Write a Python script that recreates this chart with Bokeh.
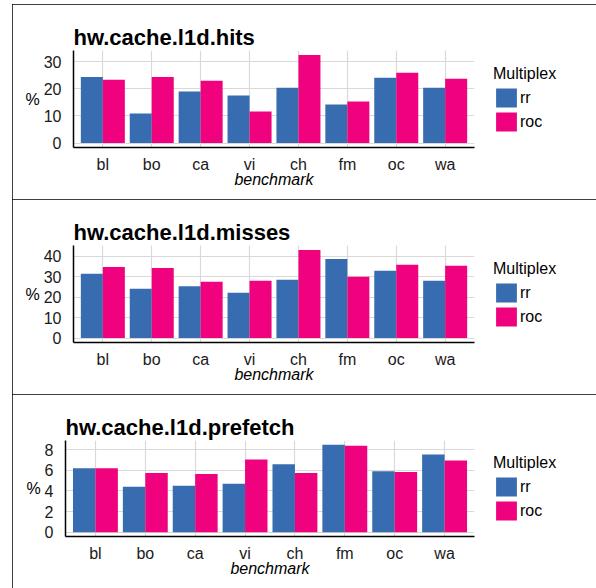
from bokeh.plotting import figure
from bokeh.layouts import column, row, Spacer
from bokeh.models import (ColumnDataSource, FactorRange, Range1d, FixedTicker,
                          Legend, LegendItem, Title)
from bokeh.transform import dodge
from bokeh.embed import file_html
from bokeh.resources import INLINE

benchmarks = ["bl", "bo", "ca", "vi", "ch", "fm", "oc", "wa"]
multiplex = ["rr", "roc"]

hits_rr = [24.4, 10.9, 19.0, 17.5, 20.4, 14.2, 24.1, 20.4]
hits_roc = [23.3, 24.4, 23.0, 11.6, 32.5, 15.3, 25.9, 23.7]
misses_rr = [31.4, 24.1, 25.3, 22.2, 28.5, 38.7, 32.9, 28.0]
misses_roc = [34.8, 34.3, 27.5, 28.0, 43.1, 30.0, 35.8, 35.3]
prefetch_rr = [6.2, 4.41, 4.5, 4.69, 6.58, 8.47, 5.92, 7.53]
prefetch_roc = [6.2, 5.73, 5.64, 7.06, 5.73, 8.38, 5.83, 6.96]

hits_ticks = [0, 10, 20, 30]
misses_ticks = [0, 10, 20, 30, 40]
prefetch_ticks = [0, 2, 4, 6, 8]

titles = ["hw.cache.l1d.hits", "hw.cache.l1d.misses", "hw.cache.l1d.prefetch"]

COLORS = {"rr": "#386cb0", "roc": "#f0027f"}
FONT = "Liberation Sans"
W = 582


def panel(title, rr, roc, ticks, left, fh):
    src = ColumnDataSource(dict(benchmark=benchmarks, rr=rr, roc=roc))
    ymax = max(max(rr), max(roc))
    p = figure(
        x_range=FactorRange(*benchmarks, range_padding=0.1, range_padding_units="absolute"),
        y_range=Range1d(-0.05 * ymax, 1.05 * ymax),
        frame_width=W - left - 120, frame_height=fh,
        toolbar_location=None, output_backend="svg",
        min_border_left=left, min_border_right=120,
        min_border_top=46, min_border_bottom=52,
        styles={"outline": "1px solid #000000", "outline-offset": "-1px"},
    )
    p.outline_line_color = None
    p.background_fill_color = "white"
    p.border_fill_color = "white"

    r1 = p.vbar(x=dodge("benchmark", -0.225, range=p.x_range), top="rr", bottom=0,
                width=0.45, source=src, fill_color=COLORS["rr"], line_color=None)
    r2 = p.vbar(x=dodge("benchmark", 0.225, range=p.x_range), top="roc", bottom=0,
                width=0.45, source=src, fill_color=COLORS["roc"], line_color=None)

    p.add_layout(Title(text=title, align="left", text_font_size="22px",
                       text_font_style="bold", text_font=FONT, text_color="#000000",
                       standoff=2), "above")

    for ax in (p.xaxis[0], p.yaxis[0]):
        ax.axis_line_color = "#000000"
        ax.axis_line_width = 1.5
        ax.major_tick_line_color = None
        ax.minor_tick_line_color = None
        ax.major_tick_out = 0
        ax.major_tick_in = 0
        ax.major_label_text_font = FONT
        ax.major_label_text_font_size = "16px"
        ax.major_label_text_color = "#1a1a1a"
        ax.axis_label_text_font = FONT
        ax.axis_label_text_font_size = "16px"
        ax.axis_label_text_color = "#000000"

    p.xaxis.axis_label = "benchmark"
    p.xaxis.axis_label_text_font_style = "italic"
    p.xaxis.major_label_standoff = 8
    p.xaxis.axis_label_standoff = -5

    p.yaxis.ticker = FixedTicker(ticks=ticks)
    p.yaxis.axis_label = "%"
    p.yaxis.axis_label_orientation = "horizontal"
    p.yaxis.axis_label_text_font_style = "normal"
    p.yaxis.major_label_standoff = 12
    p.yaxis.axis_label_standoff = 1

    p.ygrid.ticker = FixedTicker(ticks=ticks)
    p.ygrid.grid_line_color = "#d9d9d9"
    p.ygrid.grid_line_width = 1.2
    p.xgrid.grid_line_color = "#d9d9d9"
    p.xgrid.grid_line_width = 1.2

    legend = Legend(
        items=[LegendItem(label=multiplex[0], renderers=[r1]),
               LegendItem(label=multiplex[1], renderers=[r2])],
        title="Multiplex", location="center_left", margin=19, padding=0,
        spacing=0, glyph_width=26, glyph_height=24, label_height=24,
        label_standoff=1, title_standoff=3,
        label_text_font=FONT, label_text_font_size="16px", label_text_color="#000000",
        title_text_font=FONT, title_text_font_size="16px", title_text_font_style="normal",
        title_text_color="#000000",
        background_fill_alpha=0, border_line_alpha=0,
    )
    p.add_layout(legend, "right")
    return p


p1 = panel(titles[0], hits_rr, hits_roc, hits_ticks, 61, 97)
p2 = panel(titles[1], misses_rr, misses_roc, misses_ticks, 61, 97)
p3 = panel(titles[2], prefetch_rr, prefetch_roc, prefetch_ticks, 53, 96)

layout = column(
    Spacer(width=594, height=4),
    row(Spacer(width=12, height=195), p1, spacing=0),
    row(Spacer(width=12, height=195), p2, spacing=0),
    row(Spacer(width=12, height=194), p3, spacing=0),
    spacing=0,
)

open("out.html", "w").write(file_html(layout, INLINE))
